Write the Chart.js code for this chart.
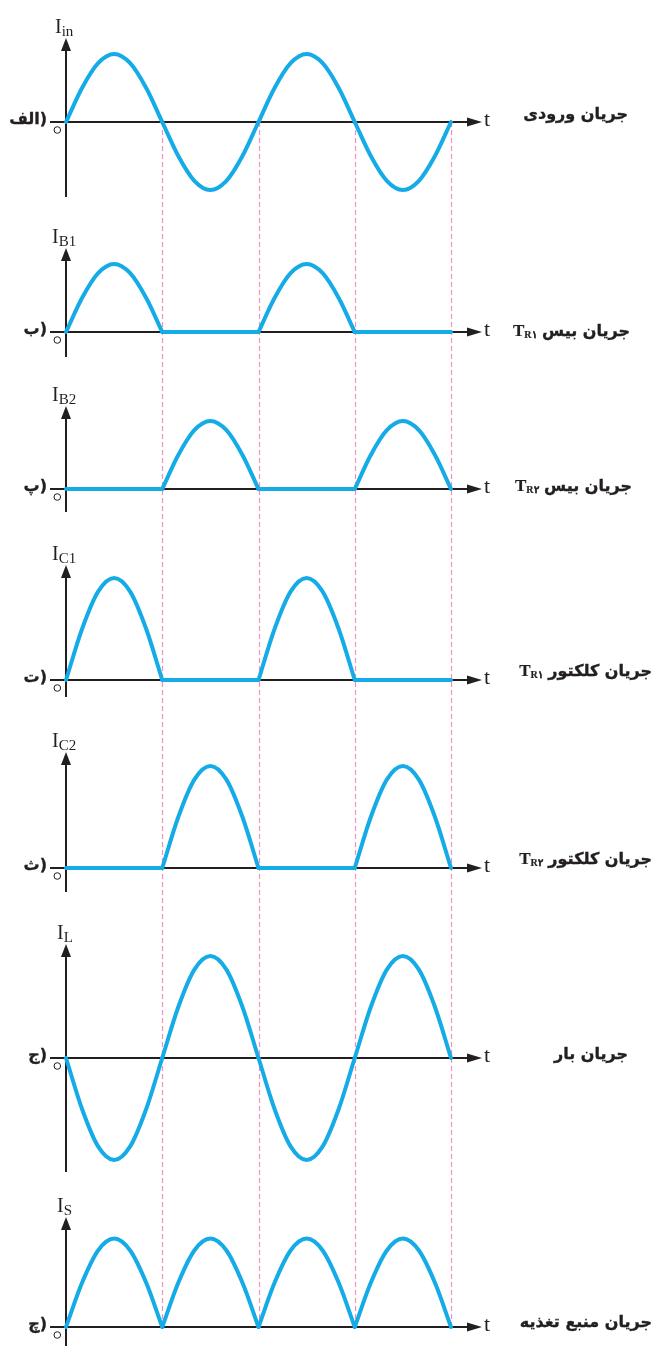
<!DOCTYPE html>
<html><head><meta charset="utf-8">
<script src="https://cdn.jsdelivr.net/npm/chart.js@4.4.0/dist/chart.umd.min.js"></script>
<style>
html,body{margin:0;padding:0;background:#fff;}
#wrap{position:relative;width:657px;height:1346px;overflow:hidden;background:#fff;}
canvas{position:absolute;left:0;top:0;}
.lbl{position:absolute;white-space:nowrap;line-height:20px;height:20px;}
.ser{font-family:"Liberation Serif","DejaVu Serif",serif;color:#231f20;}
.fa{font-family:"DejaVu Sans",sans-serif;font-weight:bold;color:#231f20;-webkit-text-stroke:0.35px #231f20;}
.sub{font-size:15px;position:relative;top:3px;}
.tsub{font-size:10px;position:relative;top:2px;}
</style></head><body>
<div id="wrap"><canvas id="c" width="657" height="1346"></canvas></div>
<script>
// ---------- data ----------
// time, in half-periods of the input current
const tValues = [0,1/6,2/6,3/6,4/6,5/6,1, 7/6,8/6,9/6,10/6,11/6,2, 13/6,14/6,15/6,16/6,17/6,3, 19/6,20/6,21/6,22/6,23/6,4];
const iIn  = [0,1,1.73,2,1.73,1,0, -1,-1.73,-2,-1.73,-1,0, 1,1.73,2,1.73,1,0, -1,-1.73,-2,-1.73,-1,0];
const iB1  = [0,1,1.73,2,1.73,1,0, 0,0,0,0,0,0, 1,1.73,2,1.73,1,0, 0,0,0,0,0,0];
const iB2  = [0,0,0,0,0,0,0, 1,1.73,2,1.73,1,0, 0,0,0,0,0,0, 1,1.73,2,1.73,1,0];
const iC1  = [0,1.5,2.6,3,2.6,1.5,0, 0,0,0,0,0,0, 1.5,2.6,3,2.6,1.5,0, 0,0,0,0,0,0];
const iC2  = [0,0,0,0,0,0,0, 1.5,2.6,3,2.6,1.5,0, 0,0,0,0,0,0, 1.5,2.6,3,2.6,1.5,0];
const iL   = [0,-1.5,-2.6,-3,-2.6,-1.5,0, 1.5,2.6,3,2.6,1.5,0, -1.5,-2.6,-3,-2.6,-1.5,0, 1.5,2.6,3,2.6,1.5,0];
const iS   = [0,1.3,2.25,2.6,2.25,1.3,0, 1.3,2.25,2.6,2.25,1.3,0, 1.3,2.25,2.6,2.25,1.3,0, 1.3,2.25,2.6,2.25,1.3,0];
const boundaries = [1,2,3,4];
// ---------- texts ----------
const axisNames = [['I','in'],['I','B1'],['I','B2'],['I','C1'],['I','C2'],['I','L'],['I','S']];
const partNames = ['الف','ب','پ','ت','ث','ج','چ'];
const seriesNames = ['جریان ورودی','جریان بیس','جریان بیس','جریان کلکتور','جریان کلکتور','جریان بار','جریان منبع تغذیه'];
const transistors = ['','R۱','R۲','R۱','R۲','',''];
const timeLabel = 't';

// ---------- layout / style ----------
const W=657,H=1346,X0=66,PXX=96.25,PXU=34;
const base=[122,332,489,680,868,1058,1327];
const axisTop=[38,248,406,565,752,944,1217];
const axisBottom=[197,357,512,697,892,1172,1346];
const nameRight=[628,630,632,652,652,628,652];
const nameDy=[-7,0,-2,-8,-8,-3,-4];
const BLUE='#14abe6', INK='#231f20', PINK='#f290bb';
const series=[iIn,iB1,iB2,iC1,iC2,iL,iS];

const scales={x:{type:'linear',display:false,min:-X0/PXX,max:(W-X0)/PXX}};
series.forEach((s,k)=>{scales['y'+k]={type:'linear',display:false,min:-(H-base[k])/PXU,max:base[k]/PXU};});

const datasets=[];
series.forEach((vals,k)=>{
  for(let c=0;c<4;c++){
    const pts=[];
    for(let i=c*6;i<=c*6+6;i++) pts.push({x:tValues[i],y:vals[i]});
    datasets.push({data:pts,yAxisID:'y'+k,xAxisID:'x',borderColor:BLUE,borderWidth:4,pointRadius:0,
      cubicInterpolationMode:'monotone',fill:false,borderCapStyle:'round',borderJoinStyle:'round'});
  }
});

const axesPlugin={id:'axes',
  beforeDatasetsDraw(chart){
    const ctx=chart.ctx, sx=chart.scales.x;
    ctx.save();
    const yA=chart.scales.y0.getPixelForValue(0), yB=chart.scales.y6.getPixelForValue(0);
    ctx.strokeStyle=PINK; ctx.lineWidth=1.2; ctx.setLineDash([5,3]);
    boundaries.forEach(b=>{const px=Math.round(sx.getPixelForValue(b))+0.5;
      ctx.beginPath();ctx.moveTo(px,yA);ctx.lineTo(px,yB);ctx.stroke();});
    ctx.setLineDash([]);
    const x0=sx.getPixelForValue(0);
    series.forEach((s,k)=>{
      const y0=chart.scales['y'+k].getPixelForValue(0);
      ctx.strokeStyle=INK; ctx.fillStyle=INK; ctx.lineWidth=2;
      ctx.beginPath();ctx.moveTo(x0,axisBottom[k]);ctx.lineTo(x0,axisTop[k]+10);ctx.stroke();
      ctx.beginPath();ctx.moveTo(x0,axisTop[k]);ctx.lineTo(x0-5,axisTop[k]+13);ctx.lineTo(x0+5,axisTop[k]+13);ctx.closePath();ctx.fill();
      const xe=482;
      ctx.beginPath();ctx.moveTo(50,y0);ctx.lineTo(xe-10,y0);ctx.stroke();
      ctx.beginPath();ctx.moveTo(xe,y0);ctx.lineTo(xe-15,y0-4.5);ctx.lineTo(xe-15,y0+4.5);ctx.closePath();ctx.fill();
      ctx.lineWidth=1; ctx.beginPath();ctx.arc(57.3,y0+8,3.3,0,Math.PI*2);ctx.stroke();
    });
    ctx.restore();
  }
};

new Chart(document.getElementById('c'),{type:'line',data:{datasets},
  options:{responsive:false,animation:false,events:[],layout:{padding:0},
    plugins:{legend:{display:false},tooltip:{enabled:false}},scales},
  plugins:[axesPlugin]});

// ---------- text overlays ----------
const wrap=document.getElementById('wrap');
function add(html,cls,style){const d=document.createElement('div');d.className='lbl '+cls;d.innerHTML=html;Object.assign(d.style,style);wrap.appendChild(d);return d;}
axisNames.forEach((n,k)=>{
  add(n[0]+'<span class="sub">'+n[1]+'</span>','ser',{left:(k===0?55:(k<5?52:57))+'px',top:(axisTop[k]-22)+'px',fontSize:'20px'});
  add(timeLabel,'ser',{left:'484px',top:(base[k]-13)+'px',fontSize:'22px'});
  add(partNames[k]+')','fa',{right:(657-47)+'px',top:(base[k]-13)+'px',fontSize:'16px',direction:'ltr'});
  let h='<span dir="rtl">'+seriesNames[k];
  if(transistors[k]) h+=' <span dir="ltr" style="font-family:\'Liberation Serif\',serif;font-size:17px;-webkit-text-stroke:0.2px">T<span class="tsub">'+transistors[k]+'</span></span>';
  h+='</span>';
  add(h,'fa',{right:(657-nameRight[k])+'px',top:(base[k]-11+nameDy[k])+'px',fontSize:'16px',direction:'rtl'});
});
</script>
</body></html>
